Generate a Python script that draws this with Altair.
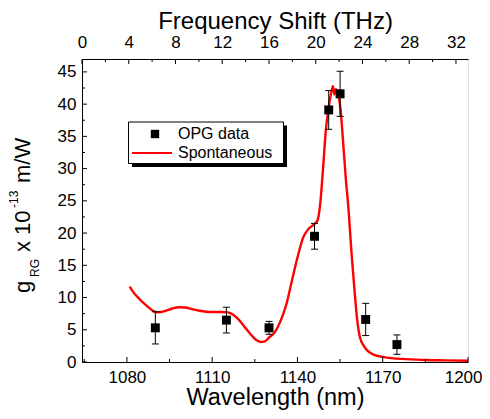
import altair as alt
import pandas as pd

# ---------------- data ----------------
# OPG data (squares with error bars)
opg_wl = [1090, 1115, 1130, 1146, 1151, 1155, 1164, 1175]
opg_g = [5.3, 6.5, 5.3, 19.5, 39.1, 41.6, 6.6, 2.7]
opg_err = [2.5, 2.0, 1.0, 2.0, 3.0, 3.5, 2.5, 1.5]

# Spontaneous Raman gain curve
spont_wl = [1081.0, 1082.0, 1083.5, 1085.0, 1087.0, 1089.0, 1090.5, 1092.0, 1094.0,
            1096.0, 1098.5, 1100.5, 1103.0, 1105.5, 1108.0, 1110.5, 1113.0, 1115.5,
            1117.5, 1119.5, 1121.5, 1123.5, 1125.5, 1127.0, 1128.5, 1130.0, 1132.0,
            1134.0, 1136.0, 1138.0, 1140.0, 1142.0, 1144.0, 1146.0, 1147.0, 1148.0,
            1149.0, 1150.0, 1151.0, 1152.0, 1152.5, 1153.0, 1153.5, 1154.5, 1155.2,
            1156.0, 1157.0, 1158.0, 1159.0, 1160.0, 1161.0, 1162.0, 1163.5, 1165.0,
            1167.0, 1170.0, 1173.0, 1178.0, 1185.0, 1192.0, 1200.0]
spont_g = [11.7, 11.0, 10.2, 9.5, 8.7, 8.0, 7.7, 7.75, 8.0,
           8.3, 8.5, 8.45, 8.2, 7.95, 7.8, 7.75, 7.75, 7.7,
           7.3, 6.5, 5.4, 4.3, 3.4, 3.1, 3.2, 3.8, 4.6,
           6.3, 8.8, 12.5, 16.2, 19.3, 20.7, 21.4, 21.9, 24.5,
           30.0, 36.0, 39.5, 42.0, 42.8, 41.5, 42.3, 41.2, 39.0,
           34.5, 28.5, 23.5, 17.0, 11.5, 6.6, 3.8, 2.4, 1.6,
           1.1, 0.8, 0.6, 0.45, 0.3, 0.25, 0.2]

# axis ticks
wl_major = [1080, 1110, 1140, 1170, 1200]
wl_minor = [1065, 1095, 1125, 1155, 1185]
g_major = [0, 5, 10, 15, 20, 25, 30, 35, 40, 45]
g_minor = [2.5, 7.5, 12.5, 17.5, 22.5, 27.5, 32.5, 37.5, 42.5]
f_major = [0, 4, 8, 12, 16, 20, 24, 28, 32]
f_minor = [2, 6, 10, 14, 18, 22, 26, 30]

legend_labels = ["OPG data", "Spontaneous"]

# ---------------- chart ----------------
FONT = "Liberation Sans"
W, H = 386, 303

pts = pd.DataFrame({"wl": opg_wl, "g": opg_g})
pts["lo"] = [g - e for g, e in zip(opg_g, opg_err)]
pts["hi"] = [g + e for g, e in zip(opg_g, opg_err)]
curve_df = pd.DataFrame({"wl": spont_wl, "g": spont_g})
one = pd.DataFrame({"a": [0]})

xscale = alt.Scale(domain=[1064.2, 1200], nice=False, zero=False)
yscale = alt.Scale(domain=[0, 47], nice=False, zero=False)
fscale = alt.Scale(domain=[0, 33.03], nice=False, zero=False)

x_axis = alt.Axis(values=wl_major, format="d", ticks=False, grid=False, domain=True,
                  domainColor="black", domainWidth=1, labelFontSize=17,
                  labelPadding=7, labelColor="black", labelFont=FONT,
                  labelFlush=True, labelFlushOffset=14, labelOverlap=False,
                  title="Wavelength (nm)", titleFont=FONT, titleFontSize=23.5,
                  titleFontWeight="normal", titleColor="black", titlePadding=0)
y_axis = alt.Axis(values=g_major, format="d", ticks=False, grid=False, domain=True,
                  domainColor="black", domainWidth=1, labelFontSize=17,
                  labelPadding=6, labelColor="black", labelFont=FONT,
                  labelFlush=False, labelOverlap=False, title=None)
f_axis = alt.Axis(orient="top", values=f_major, format="d", ticks=False, grid=False,
                  domain=True, domainColor="black", domainWidth=1,
                  labelFontSize=17, labelPadding=8, labelColor="black",
                  labelFont=FONT, labelFlush=False, labelOverlap=False,
                  title="Frequency Shift (THz)", titleFont=FONT,
                  titleFontSize=24, titleFontWeight="normal",
                  titleColor="black", titlePadding=0)

X = alt.X("wl:Q", scale=xscale, axis=x_axis)
Y = alt.Y("g:Q", scale=yscale, axis=y_axis)

curve = alt.Chart(curve_df).mark_line(color="#ff0000", strokeWidth=2.4,
                                      interpolate="monotone").encode(x=X, y=Y)
err = alt.Chart(pts).mark_rule(color="black", strokeWidth=1).encode(
    x=X, y=alt.Y("lo:Q", scale=yscale, axis=y_axis), y2="hi:Q")
cap_hi = alt.Chart(pts).mark_tick(orient="horizontal", size=7, thickness=1, color="black", opacity=1).encode(
    x=X, y=alt.Y("hi:Q", scale=yscale, axis=y_axis))
cap_lo = alt.Chart(pts).mark_tick(orient="horizontal", size=7, thickness=1, color="black", opacity=1).encode(
    x=X, y=alt.Y("lo:Q", scale=yscale, axis=y_axis))
squares = alt.Chart(pts).mark_square(size=80, color="black", opacity=1).encode(x=X, y=Y)

# inward ticks
bt_major = alt.Chart(pd.DataFrame({"wl": wl_major})).mark_rule(color="black").encode(
    x=X, y=alt.value(H), y2=alt.value(H - 5))
bt_minor = alt.Chart(pd.DataFrame({"wl": wl_minor})).mark_rule(color="black").encode(
    x=X, y=alt.value(H), y2=alt.value(H - 3))
lt_major = alt.Chart(pd.DataFrame({"g": g_major})).mark_rule(color="black").encode(
    y=Y, x=alt.value(0), x2=alt.value(5))
lt_minor = alt.Chart(pd.DataFrame({"g": g_minor})).mark_rule(color="black").encode(
    y=Y, x=alt.value(0), x2=alt.value(3))

# legend box
leg_shadow = alt.Chart(one).mark_rect(color="black").encode(
    x=alt.value(50), x2=alt.value(205), y=alt.value(66.5), y2=alt.value(108))
leg_box = alt.Chart(one).mark_rect(fill="white", stroke="black", strokeWidth=1).encode(
    x=alt.value(46.5), x2=alt.value(201.5), y=alt.value(63), y2=alt.value(104.5))
leg_sq = alt.Chart(one).mark_square(size=70, color="black", opacity=1).encode(
    x=alt.value(73), y=alt.value(75))
leg_line = alt.Chart(one).mark_rule(color="#ff0000", strokeWidth=2).encode(
    x=alt.value(50), x2=alt.value(90), y=alt.value(94))
leg_t1 = alt.Chart(one).mark_text(text=legend_labels[0], align="left", baseline="middle",
                                   font=FONT, fontSize=16, color="black").encode(
    x=alt.value(96), y=alt.value(75))
leg_t2 = alt.Chart(one).mark_text(text=legend_labels[1], align="left", baseline="middle",
                                   font=FONT, fontSize=16, color="black").encode(
    x=alt.value(96), y=alt.value(94))

# y-axis title with subscript / superscript
def vtext(txt, size, bx, sy):
    return alt.Chart(one).mark_text(text=txt, angle=270, align="left", baseline="alphabetic",
                                    font=FONT, fontSize=size, color="black").encode(
        x=alt.value(bx), y=alt.value(sy))

yt = [vtext("g", 22, -52, 234), vtext("RG", 12, -43, 218), vtext("x 10", 22, -52, 193),
      vtext("-13", 12, -64, 149), vtext("m/W", 22, -52, 124)]

inner = alt.layer(curve, err, cap_hi, cap_lo, squares, bt_major, bt_minor, lt_major, lt_minor,
                  leg_shadow, leg_box, leg_sq, leg_line, leg_t1, leg_t2, *yt)

FX = alt.X("f:Q", scale=fscale, axis=f_axis)
tt_major = alt.Chart(pd.DataFrame({"f": f_major})).mark_rule(color="black").encode(
    x=FX, y=alt.value(0), y2=alt.value(5))
tt_minor = alt.Chart(pd.DataFrame({"f": f_minor})).mark_rule(color="black").encode(
    x=FX, y=alt.value(0), y2=alt.value(3))
top = alt.layer(tt_major, tt_minor)

chart = alt.layer(inner, top).resolve_scale(x="independent").properties(
    width=W, height=H,
    padding={"left": 74, "top": 51, "right": 14, "bottom": 49},
    autosize=alt.AutoSizeParams(type="none"),
).configure_view(stroke=None).configure(background="white")

chart.save("out.html", embed_options={"renderer": "svg", "actions": False})
